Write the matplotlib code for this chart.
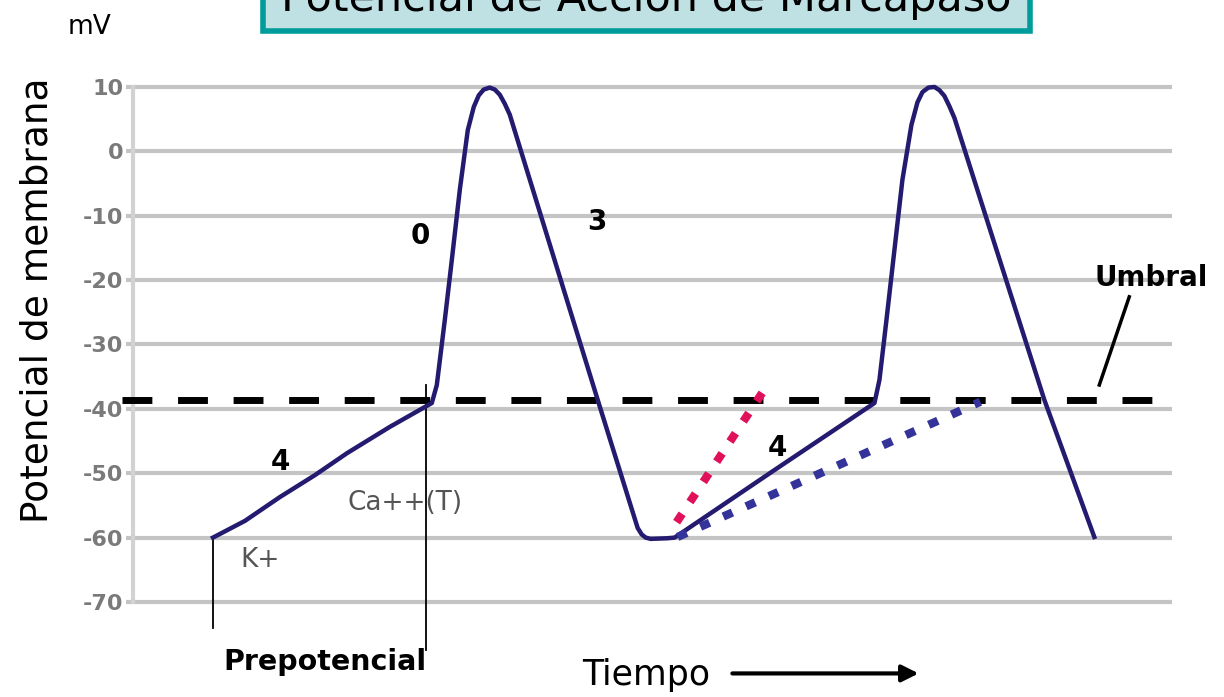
import matplotlib
matplotlib.use('Agg')
import matplotlib.pyplot as plt
from matplotlib.patches import Rectangle

# time (arbitrary units) and membrane potential (mV)
t_ms = [80, 112, 147, 182, 214, 257, 299,
        304, 312, 319, 327, 335, 341, 346, 351, 357, 362, 367, 372, 377,
        465, 505, 509, 513, 518, 535,
        542, 642, 742,
        747, 754, 762, 770, 779, 785, 790, 796, 802, 807, 812, 817, 822,
        912, 962]
v_mv = [-60, -57.4, -53.7, -50.3, -46.9, -42.8, -39.1,
        -36.3, -26.2, -16.9, -6.0, 3.3, 6.9, 8.7, 9.6, 9.9, 9.6, 8.8, 7.4, 5.7,
        -38.6, -58.5, -59.5, -60.0, -60.2, -60.1,
        -60, -49.5, -39.1,
        -35.5, -26.2, -15.3, -4.4, 4.1, 7.6, 9.2, 9.9, 10, 9.5, 8.6, 7.0, 5.2,
        -38.6, -59.9]

umbral = -38.7
pink_t = [544, 631]
pink_v = [-57.6, -37.2]
blue_t = [545, 848]
blue_v = [-59.9, -38.9]

yticks = [10, 0, -10, -20, -30, -40, -50, -60, -70]
yticklabels = ['10', '0', '-10', '-20', '-30', '-40', '-50', '-60', '-70']

font = 'DejaVu Sans'

fig = plt.figure(figsize=(12.24, 6.97), dpi=100)
ax = fig.add_axes([0.1087, 0.1271, 0.849, 0.7574])
ax.set_xlim(0, 1040)
ax.set_ylim(-71, 11)

for s in ['top', 'right', 'bottom']:
    ax.spines[s].set_visible(False)
ax.spines['left'].set_color('#d2d2d2')
ax.spines['left'].set_linewidth(3)
ax.spines['left'].set_bounds(-70, 10)
ax.set_xticks([])
ax.set_yticks(yticks)
ax.set_yticklabels(yticklabels, fontsize=16, fontweight='bold', color='#7a7a7a')
ax.tick_params(axis='y', length=5, width=3, color='#c4c4c4', pad=2)
ax.grid(axis='y', color='#c4c4c4', linewidth=3)
ax.set_axisbelow(True)

# threshold
ax.plot([-11, 1037], [umbral, umbral], color='black', lw=5,
        linestyle=(0, (4.3, 3.7)), clip_on=False, zorder=3)

# action potential
ax.plot(t_ms, v_mv, color='#241b70', lw=3.2, solid_joinstyle='round', zorder=4)

# slopes of phase 4
ax.plot(pink_t, pink_v, color='#e0105a', lw=6, linestyle=(0, (1.2, 1.7)),
        solid_capstyle='butt', zorder=5)
ax.plot(blue_t, blue_v, color='#333399', lw=6, linestyle=(0, (1.2, 1.8)),
        solid_capstyle='butt', zorder=5)

# prepotential markers
ax.plot([80, 80], [-60, -74], color='black', lw=1.3, clip_on=False)
ax.plot([293, 293], [-36.3, -77.5], color='black', lw=1.3, clip_on=False)

# labels
for tt, vv, s in [(287, -13.1, '0'), (464, -11, '3'), (148, -48.3, '4'), (645, -46.1, '4')]:
    ax.text(tt, vv, s, fontsize=20, fontweight='bold', ha='center', va='center', family=font)
ax.text(272, -54.6, 'Ca++(T)', fontsize=19, color='#555555', ha='center', va='center')
ax.text(127, -63.5, 'K+', fontsize=19, color='#555555', ha='center', va='center')
ax.text(1019, -19.7, 'Umbral', fontsize=20, fontweight='bold', ha='center', va='center',
        family=font, clip_on=False)
ax.plot([997, 967], [-22.6, -36.3], color='black', lw=2.5, clip_on=False)
ax.text(192, -79.3, 'Prepotencial', fontsize=20.5, fontweight='bold', ha='center', va='center',
        family=font, clip_on=False)
ax.text(514, -81.3, 'Tiempo', fontsize=25, ha='center', va='center', family=font, clip_on=False)
ax.annotate('', xy=(789, -81.1), xytext=(597, -81.1), annotation_clip=False,
            arrowprops=dict(arrowstyle='-|>', color='black', lw=3, mutation_scale=25))

fig.text(38 / 1224, 1 - 300 / 697, 'Potencial de membrana', rotation=90, fontsize=27,
         ha='center', va='center', family=font)
fig.text(90 / 1224, 1 - 27 / 697, 'mV', fontsize=19, ha='center', va='center', family=font)

# title box, cut by the top edge
fig.patches.append(Rectangle((263 / 1224, 1 - 31 / 697), 767 / 1224, 0.1,
                             transform=fig.transFigure, facecolor='#bfe1e4',
                             edgecolor='#009b9b', lw=4))
fig.text(646 / 1224, 1 - 11 / 697, 'Potencial de Acción de Marcapaso', fontsize=31,
         ha='center', va='baseline', family=font)

fig.savefig('out.png', dpi=100)
